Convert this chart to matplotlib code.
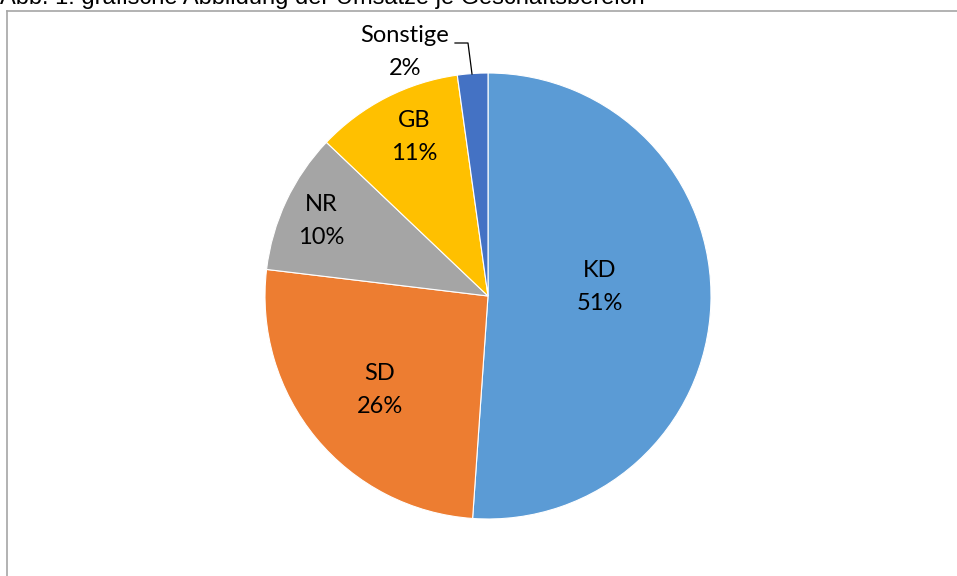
import matplotlib
matplotlib.use("Agg")
import matplotlib.pyplot as plt

categories = ["KD", "SD", "NR", "GB", "Sonstige"]
values = [51.1, 25.8, 10.2, 10.7, 2.2]
colors = ["#5B9BD5", "#ED7D31", "#A5A5A5", "#FFC000", "#4472C4"]
title = "Abb. 1: grafische Abbildung der Umsätze je Geschäftsbereich"

W, H = 957, 576
fig = plt.figure(figsize=(W / 100, H / 100), dpi=100)
ax = fig.add_axes([0, 0, 1, 1])

cx, cy, r = 488, H - 296, 223
wedges, _ = ax.pie(values, colors=colors, startangle=90, counterclock=False,
                   center=(cx, cy), radius=r,
                   wedgeprops=dict(edgecolor="white", linewidth=0.8))
ax.set_xlim(0, W)
ax.set_ylim(0, H)
ax.set_aspect("auto")
ax.axis("off")

total = sum(values)
label_pos = {"KD": (600, 287), "SD": (380, 390), "NR": (321, 221),
             "GB": (414, 137), "Sonstige": (405, 52)}
font = ["Lato", "DejaVu Sans"]
for cat, v in zip(categories, values):
    x, y = label_pos[cat]
    ax.text(x, H - y, f"{cat}\n{round(v / total * 100):d}%", ha="center", va="center",
            fontsize=17, family=font, color="#000000", linespacing=1.68)

# leader line for Sonstige
ax.plot([455, 468, 472], [H - 43, H - 43, H - 74], color="#000000", lw=0.9)

# chart frame
ax.plot([7, 7], [0, H - 10.5], color="#A6A6A6", lw=1.2, clip_on=False)
ax.plot([7, W], [H - 10.5, H - 10.5], color="#A6A6A6", lw=1.2, clip_on=False)

ax.text(0, H - 4, title, ha="left", va="baseline", fontsize=17,
        family=["Liberation Sans", "DejaVu Sans"], color="#000000")

fig.savefig("out.png", dpi=100)
